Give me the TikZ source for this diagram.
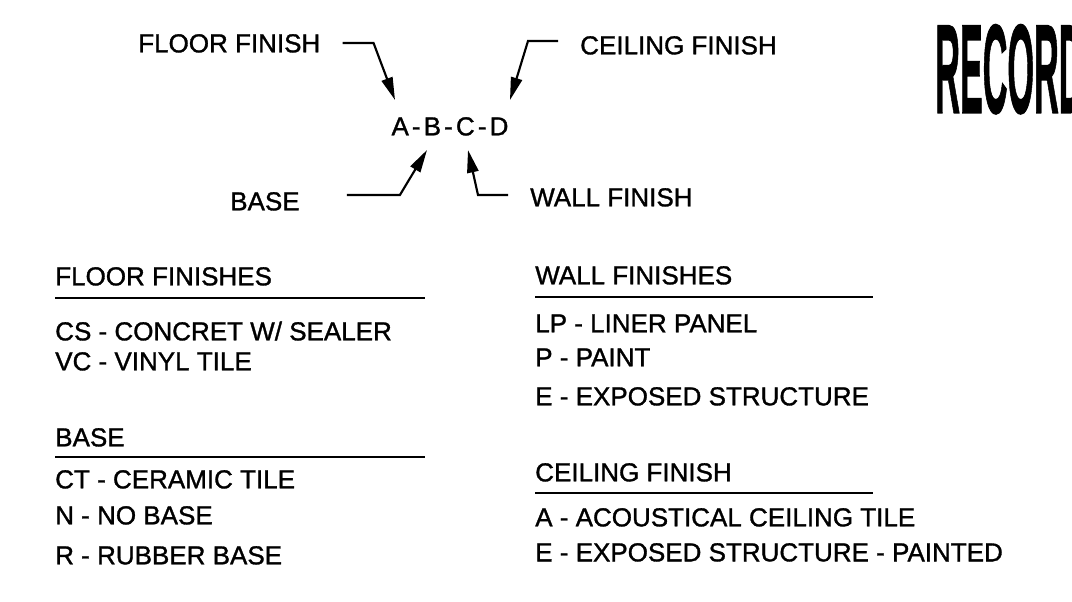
\documentclass[tikz,border=0pt]{standalone}
\usepackage{fontspec}
\setmainfont{Liberation Sans}[FakeBold=1.2]
\newfontfamily\codefont{Liberation Sans}[LetterSpace=12, FakeBold=1.2]
\usetikzlibrary{arrows.meta, positioning}

\begin{document}
\begin{tikzpicture}[
    x=0.75pt, y=-0.75pt,
    txt/.style={anchor=west, inner sep=0pt, text height=14pt, text depth=0pt,
        font=\fontsize{19.5}{20}\selectfont},
    rule/.style={line width=1.8pt},
    leader/.style={line width=1.6pt, -{Triangle[length=17pt, width=8.5pt]}}
]
    \useasboundingbox (0,0) rectangle (1072,601);

    % key at the top
    \node [txt] (floorlbl) at (138,43) {FLOOR FINISH};
    \node [txt] (ceillbl) at (580,45) {CEILING FINISH};
    \node [txt] (baselbl) at (230,201) {BASE};
    \node [txt] (walllbl) at (530,197) {WALL FINISH};
    \node [txt, anchor=center, font=\fontsize{19.5}{20}\codefont] (code) at (450,126) {A-B-C-D};

    \coordinate (tipA) at (395,100);
    \coordinate (tipB) at (427,150);
    \coordinate (tipC) at (468,150);
    \coordinate (tipD) at (510,100);

    \draw [leader] (floorlbl.east) ++(22,0) -- ++(31,0) -- (tipA);
    \draw [leader] (ceillbl.west) ++(-22,-4) -- ++(-30,0) -- (tipD);
    \draw [leader] (baselbl.east) ++(47,-6) -- ++(53,0) -- (tipB);
    \draw [leader] (walllbl.west) ++(-22,-2) -- ++(-30,0) -- (tipC);

    \node [anchor=west, inner sep=0pt, text height=68pt, text depth=0pt,
        font=\fontsize{95}{95}\bfseries] (record) at (935,67.5) {\scalebox{0.27}[1]{RECORD}};

    % left column
    \node [txt] (hfloor) at (55,276) {FLOOR FINISHES};
    \draw [rule] (55,298) -- (425,298);
    \node [txt] (cs) at (55,331) {CS - CONCRET W/ SEALER};
    \node [txt] (vc) at (55,361) {VC - VINYL TILE};

    \node [txt] (hbase) at (55,437) {BASE};
    \draw [rule] (55,457) -- (425,457);
    \node [txt] (ct) at (55,479) {CT - CERAMIC TILE};
    \node [txt] (nb) at (55,515) {N - NO BASE};
    \node [txt] (rb) at (55,555) {R - RUBBER BASE};

    % right column
    \node [txt] (hwall) at (535,275) {WALL FINISHES};
    \draw [rule] (535,297) -- (873,297);
    \node [txt] (lp) at (535,323) {LP - LINER PANEL};
    \node [txt] (pt) at (535,357) {P - PAINT};
    \node [txt] (es) at (535,396) {E - EXPOSED STRUCTURE};

    \node [txt] (hceil) at (535,472) {CEILING FINISH};
    \draw [rule] (535,493) -- (873,493);
    \node [txt] (act) at (535,517) {A - ACOUSTICAL CEILING TILE};
    \node [txt] (esp) at (535,552) {E - EXPOSED STRUCTURE - PAINTED};

\end{tikzpicture}
\end{document}
